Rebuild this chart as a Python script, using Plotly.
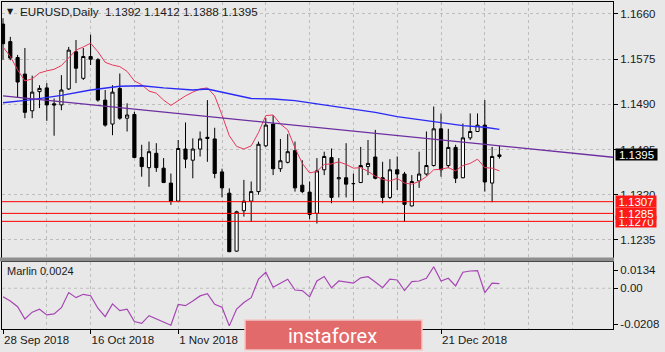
import plotly.graph_objects as go

# ---------------- data ----------------
label_idx = [0, 12, 24, 60]
label_text = ["28 Sep 2018", "16 Oct 2018", "1 Nov 2018", "21 Dec 2018"]

open_ = [1.1641, 1.1608, 1.1578, 1.1547, 1.1478, 1.1514, 1.1521, 1.1491, 1.1489, 1.1519,
         1.1589, 1.1539, 1.1580, 1.1574, 1.1498, 1.1453, 1.1520, 1.1464, 1.1471, 1.1390,
         1.1371, 1.1398, 1.1370, 1.1342, 1.1308, 1.1406, 1.1385, 1.1406, 1.1428, 1.1425,
         1.1363, 1.1323, 1.1214, 1.1290, 1.1308, 1.1326, 1.1412, 1.1453, 1.1369, 1.1381,
         1.1403, 1.1338, 1.1325, 1.1285, 1.1367, 1.1390, 1.1350, 1.1352, 1.1341, 1.1343,
         1.1373, 1.1391, 1.1352, 1.1315, 1.1367, 1.1359, 1.1299, 1.1346, 1.1359, 1.1375,
         1.1444, 1.1375, 1.1409, 1.1352, 1.1427, 1.1439, 1.1451, 1.1342, 1.1392]
high = [1.1652, 1.1617, 1.1583, 1.1596, 1.1544, 1.1526, 1.1530, 1.1501, 1.1545, 1.1598,
        1.1611, 1.1596, 1.1621, 1.1577, 1.1517, 1.1526, 1.1548, 1.1492, 1.1476, 1.1414,
        1.1420, 1.1417, 1.1389, 1.1360, 1.1423, 1.1456, 1.1426, 1.1439, 1.1498, 1.1446,
        1.1369, 1.1332, 1.1290, 1.1348, 1.1345, 1.1420, 1.1464, 1.1470, 1.1425, 1.1434,
        1.1420, 1.1385, 1.1345, 1.1389, 1.1401, 1.1407, 1.1389, 1.1417, 1.1360, 1.1410,
        1.1423, 1.1442, 1.1382, 1.1387, 1.1392, 1.1363, 1.1357, 1.1401, 1.1439, 1.1486,
        1.1473, 1.1444, 1.1414, 1.1454, 1.1473, 1.1473, 1.1498, 1.1410, 1.1412]
low = [1.1574, 1.1573, 1.1502, 1.1464, 1.1464, 1.1483, 1.1459, 1.1431, 1.1479, 1.1517,
       1.1530, 1.1536, 1.1564, 1.1495, 1.1448, 1.1432, 1.1461, 1.1439, 1.1389, 1.1354,
       1.1335, 1.1363, 1.1342, 1.1301, 1.1307, 1.1370, 1.1351, 1.1392, 1.1382, 1.1351,
       1.1315, 1.1212, 1.1213, 1.1279, 1.1269, 1.1320, 1.1410, 1.1357, 1.1363, 1.1379,
       1.1326, 1.1323, 1.1274, 1.1266, 1.1357, 1.1304, 1.1315, 1.1315, 1.1308, 1.1342,
       1.1357, 1.1349, 1.1304, 1.1312, 1.1329, 1.1269, 1.1298, 1.1333, 1.1356, 1.1373,
       1.1354, 1.1370, 1.1342, 1.1351, 1.1423, 1.1438, 1.1326, 1.1306, 1.1388]
close = [1.1604, 1.1577, 1.1532, 1.1475, 1.1513, 1.1520, 1.1489, 1.1489, 1.1517, 1.1592,
         1.1558, 1.1580, 1.1575, 1.1498, 1.1451, 1.1513, 1.1464, 1.1470, 1.1390, 1.1373,
         1.1401, 1.1371, 1.1343, 1.1308, 1.1407, 1.1387, 1.1406, 1.1425, 1.1426, 1.1360,
         1.1333, 1.1213, 1.1288, 1.1308, 1.1326, 1.1415, 1.1451, 1.1369, 1.1384, 1.1401,
         1.1333, 1.1326, 1.1283, 1.1365, 1.1392, 1.1315, 1.1352, 1.1340, 1.1341, 1.1375,
         1.1379, 1.1351, 1.1315, 1.1367, 1.1359, 1.1302, 1.1345, 1.1359, 1.1375, 1.1444,
         1.1367, 1.1409, 1.1351, 1.1427, 1.1439, 1.1451, 1.1344, 1.1392, 1.1395]
bars = list(range(len(open_)))

ma_red = [1.1598, 1.1580, 1.1555, 1.1534, 1.1538, 1.1549, 1.1553, 1.1556, 1.1563, 1.1577,
          1.1592, 1.1598, 1.1605, 1.1589, 1.1569, 1.1564, 1.1561, 1.1552, 1.1534, 1.1527,
          1.1515, 1.1511, 1.1498, 1.1488, 1.1497, 1.1506, 1.1513, 1.1519, 1.1521, 1.1506,
          1.1470, 1.1431, 1.1411, 1.1406, 1.1412, 1.1437, 1.1469, 1.1470, 1.1453, 1.1442,
          1.1408, 1.1379, 1.1361, 1.1364, 1.1377, 1.1378, 1.1382, 1.1377, 1.1370, 1.1371,
          1.1364, 1.1355, 1.1349, 1.1346, 1.1351, 1.1342, 1.1340, 1.1345, 1.1354, 1.1367,
          1.1368, 1.1371, 1.1365, 1.1375, 1.1379, 1.1387, 1.1371, 1.1370, 1.1365]

blue_idx = [0, 4, 8, 12, 16, 19, 22, 26, 28, 30, 32, 34, 37, 40, 43, 47, 51, 54, 57, 60, 63, 66, 68]
blue_val = [1.1493, 1.1499, 1.1507, 1.1517, 1.1524, 1.1525, 1.1521, 1.1517, 1.1519, 1.1513,
            1.1508, 1.1501, 1.1500, 1.1497, 1.1491, 1.1483, 1.1475, 1.1467, 1.1461, 1.1455,
            1.1450, 1.1447, 1.1443]

trend_idx = [0, 84]
trend_val = [1.1506, 1.1390]

levels = [1.1270, 1.1285, 1.1307]

marlin = [-0.0043, -0.0065, -0.0094, -0.0157, -0.0122, -0.0107, -0.0136, -0.0131, -0.0099, -0.0022,
          -0.0048, -0.0031, -0.0038, -0.0102, -0.0145, -0.0080, -0.0114, -0.0107, -0.0170, -0.0179,
          -0.0140, -0.0157, -0.0173, -0.0189, -0.0082, -0.0089, -0.0065, -0.0039, -0.0028, -0.0082,
          -0.0097, -0.0192, -0.0106, -0.0073, -0.0048, 0.0047, 0.0082, 0.0005, 0.0026, 0.0046,
          -0.0009, -0.0012, -0.0044, 0.0037, 0.0060, 0.0002, 0.0037, 0.0030, 0.0026, 0.0053,
          0.0059, 0.0032, 0.0003, 0.0047, 0.0042, -0.0012, 0.0034, 0.0037, 0.0051, 0.0110,
          0.0037, 0.0051, 0.0012, 0.0082, 0.0088, 0.0090, -0.0022, 0.0026, 0.0024]

price_ticks = [1.1235, 1.1320, 1.1405, 1.1490, 1.1575, 1.1660]
marlin_max, marlin_min = 0.0134, -0.0208

# ---------------- styling ----------------
W, H = 665, 352
BG = "#E8E8E8"
GRID = "#BDBDBD"
FONT = "Liberation Sans"
px = lambda v: v / W
py = lambda v: 1 - v / H

XL, XR = 2, 613
X_RANGE = [-0.137, 83.56]

fig = go.Figure()

fig.add_trace(go.Candlestick(
    x=bars, open=open_, high=high, low=low, close=close,
    increasing=dict(line=dict(color="black", width=1), fillcolor="white"),
    decreasing=dict(line=dict(color="black", width=1), fillcolor="black"),
    whiskerwidth=0, hoverinfo="skip", showlegend=False, xaxis="x", yaxis="y"))

fig.add_trace(go.Scatter(x=bars, y=ma_red, mode="lines",
                         line=dict(color="#E8385A", width=1), hoverinfo="skip"))
fig.add_trace(go.Scatter(x=blue_idx, y=blue_val, mode="lines",
                         line=dict(color="#2A2AF5", width=1.4), hoverinfo="skip"))
fig.add_trace(go.Scatter(x=trend_idx, y=trend_val, mode="lines",
                         line=dict(color="#6C2EA0", width=1.3), hoverinfo="skip"))
for lv in levels:
    fig.add_trace(go.Scatter(x=[-1, 90], y=[lv, lv], mode="lines",
                             line=dict(color="#FF0000", width=1), hoverinfo="skip"))

fig.add_trace(go.Scatter(x=bars, y=marlin, mode="lines", xaxis="x2", yaxis="y2",
                         line=dict(color="#A646B4", width=1.2), hoverinfo="skip"))

tickfont = dict(family=FONT, size=11.5, color="#1a1a1a")

fig.update_layout(
    width=W, height=H, margin=dict(l=0, r=0, t=0, b=0),
    paper_bgcolor=BG, plot_bgcolor=BG, showlegend=False,
    boxgap=0.38,
    xaxis=dict(domain=[px(XL), px(XR)], range=X_RANGE, anchor="y",
               tickvals=list(range(0, 84, 6)), showticklabels=False, ticks="",
               showgrid=True, gridcolor=GRID, griddash="3px,3px", gridwidth=1,
               showline=True, linecolor="black", linewidth=1, mirror=True,
               zeroline=False, rangeslider=dict(visible=False), fixedrange=True),
    yaxis=dict(domain=[py(258), py(2)], range=[1.12011, 1.16825], anchor="x", side="right",
               tickvals=price_ticks, ticktext=[f"{v:.4f}" for v in price_ticks],
               ticks="outside", ticklen=4, tickcolor="black", tickfont=tickfont,
               showgrid=True, gridcolor=GRID, griddash="3px,3px", gridwidth=1,
               showline=True, linecolor="black", linewidth=1, mirror=True, zeroline=False),
    xaxis2=dict(domain=[px(XL), px(XR)], range=X_RANGE, anchor="y2",
                tickvals=label_idx, ticktext=label_text, ticks="outside", ticklen=4,
                tickcolor="black", tickfont=tickfont, ticklabelposition="outside right",
                showgrid=True, gridcolor=GRID, griddash="3px,3px", gridwidth=1,
                minor=dict(tick0=0, dtick=6, showgrid=True, gridcolor=GRID,
                           griddash="3px,3px", gridwidth=1, ticks=""),
                showline=True, linecolor="black", linewidth=1, mirror=True, zeroline=False),
    yaxis2=dict(domain=[py(329), py(262)], range=[marlin_min, marlin_max], anchor="x2",
                side="right",
                tickvals=[marlin_max - 0.0041, 0.0, marlin_min + 0.0025],
                ticktext=[f"{marlin_max:.4f}", "0.00", f"{marlin_min:.4f}"],
                ticks="outside", ticklen=4, tickcolor="black", tickfont=tickfont,
                showgrid=False, showline=True, linecolor="black", linewidth=1,
                mirror=True, zeroline=False),
)

shapes = [
    # pane separator
    dict(type="rect", xref="paper", yref="paper", x0=px(0), x1=px(614),
         y0=py(261.5), y1=py(257.5), fillcolor="#8E8E8E", line=dict(width=0), layer="above"),
    # zero level of indicator
    dict(type="line", xref="x2 domain", yref="y2", x0=0, x1=1, y0=0, y1=0,
         line=dict(color=GRID, width=1, dash="3px,3px"), layer="below"),
    # watermark box
    dict(type="rect", xref="paper", yref="paper", x0=px(245), x1=px(422),
         y0=py(350), y1=py(320), fillcolor="#E36A6A",
         line=dict(color="#F3C6C6", width=1.5), layer="above"),
]
fig.update_layout(shapes=shapes)

ann = []
# header
ann.append(dict(xref="paper", yref="paper", x=px(5), y=py(12), xanchor="left", yanchor="middle",
                text="▼", showarrow=False, font=dict(family="DejaVu Sans", size=8, color="#1a1a1a")))
hdr = f"EURUSD,Daily  {open_[-1]:.4f} {high[-1]:.4f} {low[-1]:.4f} {close[-1]:.4f}"
ann.append(dict(xref="paper", yref="paper", x=px(18), y=py(12), xanchor="left", yanchor="middle",
                text=hdr.replace("  ", "&nbsp; "), showarrow=False,
                font=dict(family=FONT, size=11.7, color="#1a1a1a")))
# indicator label
ann.append(dict(xref="paper", yref="paper", x=px(5), y=py(271), xanchor="left", yanchor="middle",
                text=f"Marlin {marlin[-1]:.4f}", showarrow=False,
                font=dict(family=FONT, size=11, color="#1a1a1a")))
# level price labels (drawn bottom first)
for lv in levels:
    ann.append(dict(xref="paper", yref="y", x=px(614.5), y=lv, xanchor="left", yanchor="middle",
                    text=f"{lv:.4f}", showarrow=False, bgcolor="#FF1A1A", width=40, height=11,
                    borderpad=0, align="center",
                    font=dict(family=FONT, size=11.5, color="white")))
# current price label
ann.append(dict(xref="paper", yref="y", x=px(614.5), y=close[-1], xanchor="left", yanchor="middle",
                text=f"{close[-1]:.4f}", showarrow=False, bgcolor="black", width=41, height=11,
                borderpad=0, align="center",
                font=dict(family=FONT, size=11.5, color="white")))
# watermark text
ann.append(dict(xref="paper", yref="paper", x=px(332), y=py(336), xanchor="center", yanchor="middle",
                text="instaforex", showarrow=False,
                font=dict(family="Roboto", size=20, color="white")))
fig.update_layout(annotations=ann)

fig.write_html("out.html")
